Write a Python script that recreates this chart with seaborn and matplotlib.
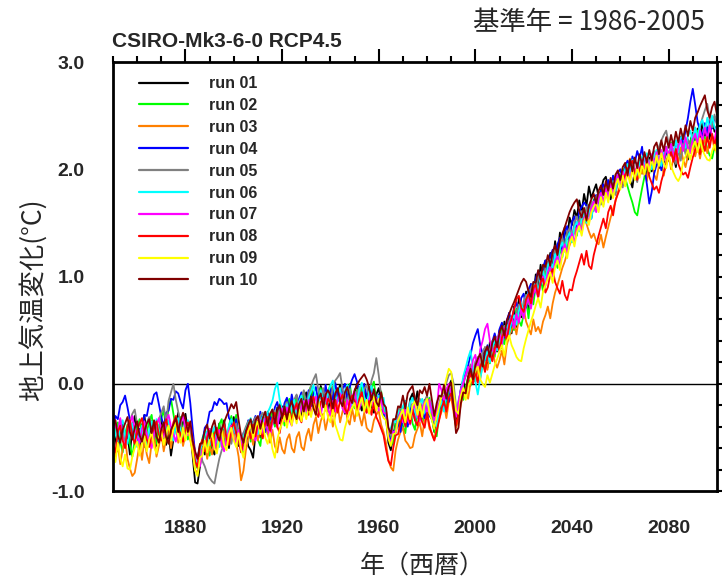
import numpy as np
import pandas as pd
import matplotlib
matplotlib.use('Agg')
import matplotlib.pyplot as plt
import seaborn as sns
from matplotlib.lines import Line2D
from matplotlib.ticker import MultipleLocator, FormatStrFormatter

sns.set_style('white')
plt.rcParams['font.family'] = ['Liberation Sans', 'DejaVu Sans']
plt.rcParams['font.weight'] = 'bold'
plt.rcParams['axes.unicode_minus'] = False

CJK = ['Noto Sans CJK JP', 'DejaVu Sans']

# yearly anomaly (deg C, base period 1986-2005), 1850..2100
years = list(range(1850, 2101))

run01 = [-.32, -.51, -.63, -.44, -.36, -.58, -.47, -.66, -.41, -.30,
         -.48, -.61, -.39, -.29, -.50, -.57, -.35, -.44, -.58, -.40,
         -.33, -.49, -.57, -.45, -.67, -.52, -.38, -.27, -.48, -.36,
         -.28, -.45, -.39, -.68, -.92, -.93, -.77, -.59, -.66, -.51,
         -.42, -.60, -.66, -.49, -.37, -.55, -.34, -.51, -.60, -.39,
         -.31, -.47, -.58, -.52, -.66, -.45, -.58, -.62, -.69, -.47,
         -.38, -.50, -.33, -.45, -.26, -.41, -.30, -.39, -.22, -.37,
         -.21, -.35, -.15, -.29, -.38, -.18, -.11, -.27, -.32, -.14,
         -.08, -.25, -.04, -.18, -.29, -.13, -.02, -.10, -.21, -.26,
         -.12, -.03, -.22, -.09, -.01, -.17, -.28, -.11, -.04, -.21,
         -.08, .00, -.19, -.25, -.06, -.16, -.03, -.21, -.27, -.10,
         -.04, -.19, -.28, -.31, -.55, -.62, -.48, -.37, -.26, -.41,
         -.30, -.16, -.36, -.14, -.09, -.20, -.07, -.22, -.31, -.15,
         -.33, -.18, -.30, -.45, -.32, -.22, -.12, -.04, -.17, -.02,
         .03, -.15, -.36, -.27, -.05, .04, -.08, .05, .16, .09,
         .02, .20, .08, .27, .34, .15, .39, .22, .45, .30,
         .50, .33, .58, .41, .66, .47, .72, .53, .80, .62,
         .71, .86, .68, .93, .80, 1.02, .88, 1.11, .97, 1.15,
         1.04, 1.22, 1.12, 1.33, 1.19, 1.41, 1.30, 1.46, 1.35, 1.55,
         1.48, 1.62, 1.55, 1.71, 1.60, 1.77, 1.66, 1.84, 1.73, 1.80,
         1.86, 1.74, 1.81, 1.90, 1.93, 1.83, 1.72, 1.85, 1.78, 1.91,
         1.84, 1.95, 1.87, 2.02, 1.90, 1.83, 2.00, 1.92, 2.08, 1.96,
         2.04, 1.93, 2.11, 1.98, 2.07, 2.15, 2.01, 2.12, 2.06, 2.19,
         2.08, 2.24, 2.13, 2.02, 2.21, 2.15, 2.30, 2.18, 2.09, 2.26,
         2.34, 2.21, 2.38, 2.27, 2.44, 2.31, 2.39, 2.28, 2.46, 2.35,
         2.41]

run02 = [-.55, -.43, -.36, -.54, -.64, -.47, -.38, -.57, -.68, -.52,
         -.41, -.33, -.48, -.59, -.45, -.35, -.29, -.47, -.56, -.40,
         -.32, -.25, -.43, -.22, -.14, -.28, -.41, -.50, -.31, -.48,
         -.36, -.52, -.40, -.58, -.74, -.79, -.63, -.51, -.44, -.60,
         -.67, -.50, -.42, -.59, -.38, -.33, -.52, -.57, -.39, -.30,
         -.45, -.29, -.51, -.59, -.64, -.43, -.36, -.54, -.35, -.48,
         -.52, -.58, -.37, -.31, -.47, -.33, -.24, -.40, -.28, -.19,
         -.25, -.39, -.23, -.14, -.33, -.20, -.12, -.31, -.18, -.09,
         -.22, -.08, -.02, -.19, -.27, -.10, -.04, -.15, -.24, -.07,
         -.01, -.16, -.26, -.12, -.05, -.20, -.24, -.08, .00, -.15,
         -.23, -.06, -.18, -.03, -.16, -.25, -.11, -.04, .02, -.17,
         -.24, -.07, -.22, -.33, -.45, -.50, -.56, -.36, -.40, -.24,
         -.39, -.46, -.27, -.20, -.37, -.43, -.25, -.16, -.31, -.36,
         -.21, -.13, -.32, -.44, -.49, -.27, -.18, -.11, -.24, -.07,
         -.04, -.22, -.40, -.28, -.12, -.15, -.03, .06, -.02, .10,
         .05, .19, .07, .24, .12, .28, .19, .38, .25, .43,
         .32, .51, .37, .55, .46, .62, .50, .70, .59, .54,
         .65, .79, .61, .85, .74, .92, .81, .99, .86, 1.05,
         .97, 1.14, 1.02, 1.20, 1.08, 1.27, 1.18, 1.35, 1.23, 1.41,
         1.32, 1.48, 1.38, 1.56, 1.44, 1.61, 1.50, 1.67, 1.55, 1.72,
         1.63, 1.78, 1.69, 1.84, 1.74, 1.89, 1.79, 1.94, 1.85, 1.97,
         1.88, 2.01, 1.92, 1.84, 1.76, 1.69, 1.60, 1.57, 1.70, 1.82,
         1.93, 2.04, 1.96, 2.10, 2.00, 2.13, 2.05, 2.17, 2.08, 2.21,
         2.12, 2.25, 2.15, 2.09, 2.22, 2.14, 2.28, 2.19, 2.11, 2.26,
         2.32, 2.20, 2.36, 2.24, 2.17, 2.30, 2.19, 2.13, 2.10, 2.21,
         2.27]

run03 = [-.52, -.68, -.57, -.75, -.61, -.50, -.70, -.79, -.86, -.83,
         -.70, -.56, -.71, -.52, -.66, -.74, -.55, -.47, -.68, -.58,
         -.46, -.63, -.51, -.42, -.60, -.45, -.37, -.55, -.43, -.58,
         -.47, -.36, -.52, -.65, -.80, -.84, -.69, -.61, -.55, -.70,
         -.58, -.66, -.50, -.63, -.46, -.59, -.44, -.57, -.41, -.52,
         -.40, -.55, -.68, -.90, -.81, -.62, -.51, -.44, -.57, -.42,
         -.53, -.39, -.49, -.35, -.46, -.55, -.43, -.58, -.64, -.50,
         -.61, -.65, -.52, -.47, -.60, -.64, -.50, -.45, -.59, -.62,
         -.49, -.42, -.53, -.38, -.31, -.46, -.35, -.28, -.43, -.32,
         -.25, -.40, -.29, -.20, -.36, -.26, -.17, -.33, -.38, -.23,
         -.35, -.21, -.30, -.39, -.27, -.41, -.44, -.45, -.34, -.29,
         -.25, -.38, -.45, -.55, -.71, -.78, -.81, -.62, -.52, -.45,
         -.41, -.53, -.56, -.60, -.59, -.48, -.42, -.36, -.49, -.33,
         -.29, -.42, -.46, -.52, -.41, -.33, -.26, -.19, -.32, -.17,
         -.13, -.27, -.41, -.32, -.19, -.10, -.05, -.14, .01, .06,
         .02, .13, .04, .19, .24, .13, .29, .33, .21, .15,
         .22, .31, .18, .36, .44, .50, .57, .46, .61, .66,
         .70, .58, .52, .46, .60, .49, .53, .47, .58, .64,
         .72, .61, .75, .85, .92, 1.00, 1.08, 1.14, 1.22, 1.29,
         1.35, 1.41, 1.47, 1.53, 1.45, 1.57, 1.49, 1.42, 1.36, 1.40,
         1.33, 1.30, 1.39, 1.27, 1.37, 1.46, 1.55, 1.63, 1.70, 1.79,
         1.85, 1.92, 1.98, 2.04, 2.10, 2.06, 1.99, 1.91, 2.05, 1.96,
         2.02, 1.89, 2.07, 2.11, 1.95, 1.90, 2.04, 2.09, 1.94, 2.08,
         2.14, 2.00, 2.10, 2.17, 2.06, 2.20, 2.09, 2.02, 2.13, 2.19,
         2.25, 2.12, 2.22, 2.10, 2.23, 2.28, 2.15, 2.26, 2.31, 2.18,
         2.29]

run04 = [-.43, -.30, -.33, -.20, -.17, -.11, -.22, -.34, -.45, -.52,
         -.57, -.42, -.44, -.29, -.30, -.18, -.19, -.10, -.08, -.19,
         -.31, -.40, -.27, -.25, -.14, -.15, -.07, -.09, -.17, -.23,
         -.06, .00, -.18, -.43, -.65, -.71, -.57, -.55, -.41, -.38,
         -.26, -.25, -.17, -.20, -.14, -.16, -.19, -.18, -.32, -.35,
         -.46, -.33, -.49, -.55, -.46, -.44, -.34, -.48, -.36, -.30,
         -.41, -.26, -.39, -.45, -.28, -.31, -.36, -.22, -.17, -.28,
         -.31, -.18, -.13, -.26, -.10, -.22, -.28, -.14, -.08, -.23,
         -.18, -.06, -.21, -.09, -.03, -.17, -.07, -.20, -.01, -.14,
         -.04, -.16, .01, -.12, -.18, -.05, .00, -.15, -.03, .04,
         .09, .02, -.08, -.14, .00, -.12, -.17, -.04, -.15, -.21,
         -.10, -.24, -.29, -.30, -.47, -.54, -.44, -.46, -.35, -.45,
         -.32, -.27, -.40, -.25, -.19, -.34, -.23, -.16, -.27, -.32,
         -.18, -.30, -.33, -.40, -.30, -.24, -.13, -.24, -.08, -.17,
         -.03, -.15, -.30, -.19, -.05, .02, .11, .17, .27, .38,
         .45, .51, .36, .28, .22, .36, .25, .39, .47, .37,
         .51, .57, .43, .59, .66, .54, .70, .76, .65, .80,
         .84, .71, .88, .93, .82, .98, 1.05, .92, 1.09, 1.15,
         1.03, 1.19, 1.25, 1.13, 1.30, 1.36, 1.24, 1.41, 1.47, 1.35,
         1.51, 1.56, 1.45, 1.61, 1.65, 1.69, 1.66, 1.58, 1.54, 1.70,
         1.76, 1.65, 1.80, 1.86, 1.75, 1.90, 1.79, 1.94, 1.84, 1.97,
         2.00, 1.88, 2.03, 2.08, 1.96, 2.12, 2.06, 2.17, 2.10, 2.21,
         2.02, 1.86, 1.68, 1.79, 1.96, 2.04, 2.10, 1.99, 2.13, 2.18,
         2.09, 2.22, 2.14, 2.26, 2.18, 2.30, 2.25, 2.36, 2.48, 2.63,
         2.75, 2.60, 2.44, 2.36, 2.31, 2.43, 2.34, 2.47, 2.38, 2.49,
         2.43]

run05 = [-.50, -.36, -.48, -.33, -.45, -.53, -.41, -.35, -.28, -.24,
         -.38, -.47, -.55, -.43, -.36, -.31, -.44, -.51, -.39, -.33,
         -.27, -.21, -.36, -.16, -.08, .00, -.15, -.26, -.37, -.44,
         -.49, -.35, -.47, -.61, -.75, -.68, -.60, -.72, -.77, -.84,
         -.88, -.91, -.93, -.81, -.70, -.62, -.56, -.49, -.44, -.56,
         -.43, -.37, -.48, -.57, -.46, -.40, -.35, -.48, -.37, -.31,
         -.44, -.30, -.27, -.40, -.29, -.43, -.32, -.25, -.36, -.22,
         -.34, -.22, -.17, -.30, -.20, -.15, -.10, -.24, -.13, -.06,
         -.20, -.09, -.02, .04, .09, -.06, -.14, -.04, -.18, -.06,
         -.16, -.03, .03, .06, .10, -.05, -.12, -.17, -.05, -.15,
         -.20, -.08, -.03, -.16, -.05, -.01, -.13, .03, .10, .24,
         .08, -.11, -.18, -.24, -.42, -.48, -.38, -.32, -.26, -.20,
         -.30, -.18, -.29, -.16, -.27, -.33, -.19, -.14, -.28, -.16,
         -.11, -.23, -.27, -.35, -.26, -.18, -.10, -.05, .01, .08,
         .10, .00, -.21, -.27, -.12, .00, .07, .12, .18, .09,
         .21, .25, .12, .29, .34, .21, .32, .40, .30, .44,
         .34, .48, .54, .45, .59, .63, .54, .66, .74, .64,
         .77, .83, .74, .89, .94, .85, .98, 1.04, .95, 1.09,
         1.14, 1.05, 1.20, 1.25, 1.16, 1.30, 1.36, 1.27, 1.41, 1.45,
         1.36, 1.50, 1.56, 1.47, 1.61, 1.51, 1.65, 1.56, 1.70, 1.61,
         1.74, 1.78, 1.67, 1.81, 1.86, 1.77, 1.90, 1.81, 1.76, 1.91,
         1.95, 1.83, 1.98, 2.02, 1.91, 2.05, 1.94, 1.88, 2.02, 2.08,
         1.98, 2.10, 2.00, 2.13, 2.17, 2.06, 2.21, 2.27, 2.32, 2.36,
         2.24, 2.16, 2.10, 2.05, 2.18, 2.08, 2.23, 2.14, 2.28, 2.19,
         2.32, 2.37, 2.25, 2.40, 2.48, 2.55, 2.61, 2.47, 2.39, 2.51,
         2.41]

run06 = [-.33, -.47, -.54, -.40, -.34, -.48, -.56, -.44, -.37, -.52,
         -.59, -.47, -.39, -.51, -.58, -.43, -.35, -.47, -.33, -.44,
         -.50, -.36, -.48, -.34, -.46, -.53, -.39, -.32, -.44, -.51,
         -.40, -.34, -.49, -.56, -.67, -.75, -.63, -.55, -.48, -.44,
         -.57, -.46, -.40, -.53, -.59, -.44, -.38, -.51, -.39, -.33,
         -.42, -.48, -.54, -.60, -.50, -.43, -.37, -.32, -.45, -.35,
         -.47, -.36, -.30, -.41, -.27, -.22, -.16, -.05, .01, -.15,
         -.24, -.30, -.19, -.33, -.21, -.15, -.29, -.17, -.11, -.22,
         -.28, -.13, -.07, -.01, -.15, -.21, -.06, -.17, -.23, -.08,
         -.02, .03, -.11, -.16, -.04, -.19, -.07, -.01, -.15, -.21,
         -.07, -.18, -.05, .01, -.12, -.19, -.08, -.02, -.16, -.22,
         -.11, -.23, -.13, -.31, -.43, -.41, -.35, -.36, -.24, -.34,
         -.21, -.16, -.29, -.18, -.13, -.26, -.32, -.19, -.14, -.27,
         -.15, -.28, -.18, -.33, -.40, -.23, -.16, -.26, -.12, -.06,
         -.01, -.14, -.29, -.16, -.07, .07, .15, .24, .31, .15,
         .02, -.10, .05, .16, .23, .30, .20, .34, .41, .31,
         .45, .36, .50, .55, .46, .59, .64, .55, .68, .75,
         .66, .80, .85, .76, .90, .95, .86, .99, 1.05, .96,
         1.10, 1.16, 1.07, 1.21, 1.12, 1.26, 1.32, 1.23, 1.36, 1.41,
         1.32, 1.46, 1.51, 1.42, 1.54, 1.59, 1.50, 1.63, 1.54, 1.67,
         1.72, 1.63, 1.76, 1.67, 1.80, 1.71, 1.84, 1.89, 1.80, 1.92,
         1.96, 1.87, 2.00, 2.05, 1.95, 2.09, 1.98, 1.93, 2.07, 2.12,
         2.02, 2.15, 2.05, 2.00, 2.13, 2.18, 2.08, 2.03, 2.16, 2.21,
         2.11, 2.24, 2.14, 2.27, 2.16, 2.29, 2.33, 2.20, 2.31, 2.36,
         2.26, 2.39, 2.29, 2.42, 2.46, 2.35, 2.48, 2.37, 2.50, 2.39,
         2.35]

run07 = [-.26, -.39, -.45, -.32, -.51, -.58, -.44, -.37, -.30, -.42,
         -.49, -.55, -.42, -.35, -.47, -.53, -.60, -.46, -.38, -.32,
         -.43, -.50, -.35, -.29, -.40, -.47, -.54, -.42, -.36, -.30,
         -.41, -.48, -.37, -.52, -.64, -.71, -.77, -.62, -.60, -.47,
         -.42, -.54, -.61, -.49, -.43, -.56, -.63, -.51, -.44, -.39,
         -.51, -.56, -.43, -.55, -.62, -.52, -.44, -.38, -.49, -.53,
         -.39, -.34, -.46, -.32, -.43, -.49, -.36, -.30, -.41, -.28,
         -.23, -.35, -.22, -.34, -.39, -.25, -.20, -.32, -.21, -.16,
         -.26, -.15, -.29, -.17, -.12, -.25, -.30, -.16, -.11, -.24,
         -.29, -.16, -.26, -.14, -.09, -.23, -.27, -.15, -.25, -.12,
         -.07, -.20, -.24, -.11, -.22, -.27, -.15, -.09, -.23, -.13,
         -.25, -.15, -.27, -.28, -.49, -.56, -.45, -.44, -.33, -.26,
         -.36, -.23, -.34, -.38, -.25, -.19, -.30, -.35, -.22, -.17,
         -.29, -.15, -.26, -.34, -.24, .00, -.06, -.17, -.05, .00,
         -.10, -.16, -.31, -.17, -.06, .01, .08, .16, .07, .22,
         .27, .13, .32, .40, .51, .56, .40, .32, .28, .41,
         .47, .37, .52, .43, .56, .62, .52, .65, .57, .70,
         .61, .74, .79, .70, .84, .89, .80, .94, 1.00, .91,
         1.04, 1.09, 1.00, 1.14, 1.19, 1.10, 1.24, 1.30, 1.21, 1.34,
         1.40, 1.31, 1.45, 1.50, 1.41, 1.54, 1.59, 1.50, 1.64, 1.70,
         1.60, 1.73, 1.78, 1.69, 1.82, 1.73, 1.87, 1.78, 1.90, 1.95,
         1.86, 1.98, 1.89, 2.01, 1.90, 2.03, 1.93, 2.06, 1.96, 2.09,
         1.99, 2.11, 2.01, 2.14, 2.04, 2.16, 2.06, 2.18, 2.08, 2.21,
         2.12, 2.24, 2.14, 2.09, 2.22, 2.27, 2.17, 2.30, 2.20, 2.15,
         2.28, 2.33, 2.23, 2.36, 2.26, 2.39, 2.28, 2.41, 2.31, 2.27,
         2.40]

run08 = [-.58, -.64, -.45, -.39, -.53, -.60, -.40, -.34, -.49, -.56,
         -.44, -.37, -.32, -.46, -.52, -.59, -.48, -.41, -.35, -.48,
         -.53, -.40, -.33, -.44, -.50, -.36, -.30, -.41, -.47, -.54,
         -.42, -.36, -.51, -.59, -.72, -.78, -.59, -.52, -.63, -.50,
         -.44, -.58, -.47, -.41, -.54, -.43, -.37, -.51, -.57, -.42,
         -.36, -.47, -.53, -.64, -.54, -.46, -.40, -.51, -.38, -.49,
         -.34, -.45, -.51, -.37, -.31, -.44, -.33, -.27, -.40, -.46,
         -.32, -.26, -.37, -.23, -.35, -.24, -.18, -.31, -.36, -.22,
         -.16, -.29, -.18, -.12, -.26, -.31, -.17, -.13, -.25, -.14,
         -.18, -.30, -.15, -.27, -.16, -.10, -.23, -.28, -.16, -.11,
         -.16, -.26, -.14, -.08, -.21, -.27, -.16, -.29, -.18, -.31,
         -.36, -.42, -.48, -.61, -.72, -.76, -.60, -.48, -.47, -.36,
         -.29, -.40, -.27, -.37, -.24, -.34, -.39, -.26, -.36, -.41,
         -.27, -.39, -.47, -.53, -.44, -.34, -.23, -.16, -.26, -.13,
         -.09, -.23, -.39, -.28, -.15, -.08, -.07, .03, .10, .00,
         .12, .01, .16, .21, .11, .25, .30, .21, .33, .39,
         .30, .43, .49, .40, .54, .61, .69, .79, .82, .71,
         .67, .79, .84, .75, .89, .93, .81, .95, .98, .85,
         .90, 1.02, 1.07, .95, .89, .84, .96, .83, .78, .88,
         .87, .98, 1.05, 1.13, 1.21, 1.11, 1.24, 1.10, 1.07, 1.20,
         1.29, 1.38, 1.46, 1.54, 1.45, 1.60, 1.66, 1.57, 1.71, 1.77,
         1.83, 1.89, 1.95, 2.00, 2.04, 2.08, 1.96, 1.90, 2.00, 2.06,
         1.95, 2.07, 1.93, 1.87, 1.81, 1.84, 1.78, 1.89, 1.97, 2.04,
         2.10, 2.16, 2.07, 2.19, 2.05, 1.99, 1.95, 1.97, 1.92, 2.02,
         2.11, 2.18, 2.24, 2.14, 2.27, 2.17, 2.30, 2.20, 2.33, 2.23,
         2.31]

run09 = [-.65, -.73, -.55, -.69, -.77, -.66, -.79, -.80, -.68, -.60,
         -.54, -.67, -.56, -.49, -.63, -.52, -.45, -.59, -.65, -.50,
         -.44, -.57, -.46, -.39, -.53, -.42, -.36, -.49, -.55, -.41,
         -.53, -.40, -.52, -.63, -.81, -.86, -.69, -.67, -.53, -.64,
         -.52, -.46, -.60, -.65, -.50, -.44, -.57, -.62, -.47, -.41,
         -.53, -.59, -.46, -.61, -.69, -.51, -.44, -.38, -.51, -.40,
         -.35, -.47, -.36, -.50, -.56, -.46, -.61, -.69, -.52, -.43,
         -.37, -.30, -.41, -.28, -.39, -.26, -.37, -.24, -.35, -.23,
         -.33, -.21, -.31, -.19, -.30, -.16, -.28, -.33, -.20, -.31,
         -.36, -.24, -.38, -.45, -.52, -.53, -.41, -.33, -.27, -.22,
         -.18, -.30, -.19, -.13, -.26, -.15, -.28, -.17, -.12, -.25,
         -.14, -.26, -.32, -.34, -.51, -.58, -.47, -.46, -.34, -.29,
         -.24, -.36, -.22, -.33, -.20, -.16, -.29, -.18, -.31, -.19,
         -.14, -.27, -.34, -.42, -.30, -.21, -.12, -.05, .05, .14,
         .11, -.08, -.25, -.28, -.11, -.04, -.15, -.02, .02, .07,
         .12, .16, .04, .00, -.03, .08, .01, .09, .17, .23,
         .30, .36, .26, .40, .45, .36, .31, .25, .22, .21,
         .33, .42, .50, .58, .65, .73, .80, .71, .86, .92,
         .98, 1.04, .94, 1.09, 1.15, 1.06, 1.20, 1.26, 1.17, 1.31,
         1.37, 1.28, 1.41, 1.47, 1.38, 1.51, 1.57, 1.48, 1.60, 1.65,
         1.69, 1.60, 1.74, 1.65, 1.78, 1.69, 1.82, 1.73, 1.85, 1.91,
         1.81, 1.94, 1.84, 1.97, 1.87, 2.00, 1.90, 2.02, 1.92, 2.05,
         1.95, 2.08, 1.98, 2.10, 2.00, 2.13, 2.03, 2.15, 2.05, 2.01,
         2.14, 2.03, 1.97, 1.92, 1.89, 1.94, 2.07, 2.12, 2.18, 2.09,
         2.21, 2.26, 2.16, 2.29, 2.18, 2.13, 2.09, 2.08, 2.17, 2.23,
         2.14]

run10 = [-.40, -.34, -.48, -.55, -.43, -.37, -.31, -.45, -.52, -.41,
         -.35, -.48, -.54, -.44, -.37, -.33, -.46, -.34, -.49, -.55,
         -.42, -.36, -.50, -.56, -.43, -.38, -.32, -.45, -.34, -.27,
         -.33, -.45, -.35, -.53, -.63, -.70, -.56, -.55, -.44, -.38,
         -.51, -.40, -.34, -.47, -.53, -.42, -.36, -.30, -.25, -.19,
         -.23, -.17, -.34, -.48, -.55, -.44, -.38, -.33, -.46, -.34,
         -.30, -.42, -.32, -.26, -.39, -.28, -.24, -.37, -.25, -.20,
         -.32, -.21, -.33, -.22, -.16, -.27, -.33, -.19, -.14, -.26,
         -.15, -.25, -.12, -.23, -.29, -.14, -.09, -.22, -.10, -.06,
         -.11, -.23, -.09, -.04, -.16, -.21, -.08, -.03, -.13, -.18,
         -.06, -.01, .03, .06, .09, .04, -.03, -.15, -.05, -.17,
         -.21, -.08, -.19, -.22, -.41, -.46, -.33, -.33, -.21, -.22,
         -.11, -.23, -.09, -.05, -.02, -.14, -.20, -.06, -.09, -.03,
         -.11, .00, -.15, -.30, -.18, -.11, -.12, -.01, -.14, -.03,
         .01, -.22, -.46, -.41, -.18, -.08, -.09, .07, .14, .04,
         .17, .23, .28, .16, .30, .35, .25, .38, .44, .34,
         .48, .54, .45, .59, .65, .71, .76, .82, .88, .94,
         .98, .95, .86, .81, .95, .94, 1.06, .97, 1.11, 1.09,
         1.20, 1.10, 1.23, 1.29, 1.20, 1.34, 1.40, 1.46, 1.53, 1.60,
         1.65, 1.69, 1.72, 1.61, 1.55, 1.64, 1.52, 1.66, 1.72, 1.77,
         1.68, 1.80, 1.85, 1.76, 1.89, 1.80, 1.92, 1.82, 1.95, 1.99,
         1.90, 2.02, 2.06, 1.94, 2.09, 1.98, 2.11, 2.01, 2.14, 2.04,
         2.16, 2.06, 2.18, 2.08, 2.21, 2.25, 2.14, 2.27, 2.17, 2.30,
         2.20, 2.32, 2.22, 2.35, 2.25, 2.38, 2.28, 2.41, 2.31, 2.45,
         2.36, 2.48, 2.53, 2.59, 2.64, 2.69, 2.55, 2.48, 2.58, 2.63,
         2.51]

run_names = ['run 01', 'run 02', 'run 03', 'run 04', 'run 05',
             'run 06', 'run 07', 'run 08', 'run 09', 'run 10']
run_colors = ['#000000', '#00ff00', '#ff8000', '#0000ff', '#808080',
              '#00ffff', '#ff00ff', '#ff0000', '#ffff00', '#800000']

runs = [run01, run02, run03, run04, run05, run06, run07, run08, run09, run10]
frames = []
for name, vals in zip(run_names, runs):
    assert len(vals) == len(years), (name, len(vals))
    frames.append(pd.DataFrame({'year': years, 'anom': vals, 'run': name}))
df = pd.concat(frames, ignore_index=True)

fig = plt.figure(figsize=(7.22, 5.80), dpi=100)
ax = fig.add_axes([0.1565, 0.1534, 0.8365, 0.7397])

sns.lineplot(data=df, x='year', y='anom', hue='run', hue_order=run_names,
             palette=run_colors, linewidth=1.3, estimator=None,
             legend=False, ax=ax)
ax.axhline(0, color='black', lw=1.0, zorder=1)

ax.set_xlim(1850, 2100)
ax.set_ylim(-1, 3)
ax.xaxis.set_major_locator(MultipleLocator(40))
ax.xaxis.set_minor_locator(MultipleLocator(10))
ax.yaxis.set_major_locator(MultipleLocator(1.0))
ax.yaxis.set_minor_locator(MultipleLocator(0.2))
ax.yaxis.set_major_formatter(FormatStrFormatter('%.1f'))
ax.set_xlabel('')
ax.set_ylabel('')

for sp in ax.spines.values():
    sp.set_linewidth(2.0)
    sp.set_color('black')
ax.tick_params(which='both', direction='out', top=True, right=True,
               color='black', width=1.5, labelsize=14, pad=11)
ax.tick_params(which='major', length=9.5)
ax.tick_params(which='minor', length=4.5)

handles = [Line2D([], [], color=c, lw=1.6) for c in run_colors]
ax.legend(handles, run_names, loc='upper left', bbox_to_anchor=(0.025, 0.993),
          frameon=False, fontsize=11.5, handlelength=3.05, handletextpad=1.3,
          labelspacing=0.43, borderpad=0.2)

fig.text(0.155, 0.919, 'CSIRO-Mk3-6-0 RCP4.5', fontsize=15,
         fontweight='bold', ha='left', va='baseline')
fig.text(0.976, 0.962, '基準年 = 1986-2005', fontsize=19, fontweight='normal',
         family=CJK, ha='right', va='center')
fig.text(0.045, 0.483, '地上気温変化(°C)', fontsize=19, fontweight='normal',
         family=CJK, rotation=90, ha='center', va='center')
fig.text(0.585, 0.025, '年（西暦）', fontsize=18, fontweight='normal',
         family=CJK, ha='center', va='center')

fig.savefig('out.png', dpi=100)
